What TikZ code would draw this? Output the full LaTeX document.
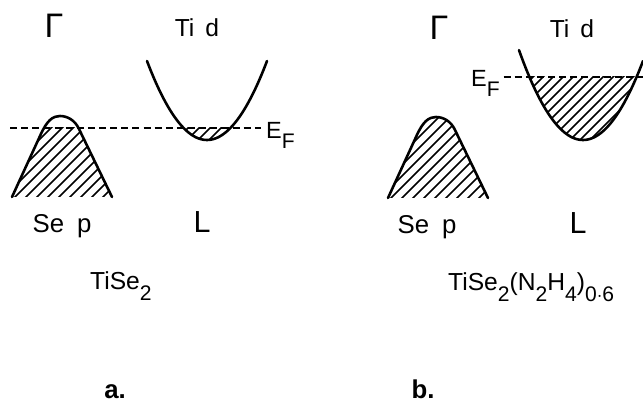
\documentclass[tikz,border=0pt]{standalone}
\usepackage{fontspec}
\setmainfont{Liberation Sans}
\usetikzlibrary{positioning}

% lettering-guide subscripts sit low and are nearly full size
\newcommand{\lowsub}[1]{\raisebox{-9pt}{\fontsize{18}{18}\selectfont #1}}
% band outlines, in picture pixels
\newcommand{\sepband}{(12,197) -- (40,136) .. controls (47,120) and (53,116) .. (60,116) .. controls (67,116) and (75,120) .. (79,129) -- (112,197)}

\begin{document}
\begin{tikzpicture}[x=0.03cm, y=-0.03cm,
    band/.style={line width=2.2pt, line join=round, line cap=round},
    hatch/.style={line width=1.5pt},
    fermi/.style={line width=1.1pt, dash pattern=on 6pt off 3.5pt},
    lab/.style={inner sep=0pt, font=\fontsize{21}{23}\selectfont},
    point/.style={inner sep=0pt, font=\fontsize{26}{28}\selectfont},
    panel/.style={inner sep=0pt, font=\fontsize{22}{24}\selectfont\bfseries}
]
\useasboundingbox (0,0) rectangle (643,404);

%%% a. TiSe2
% Se p band, filled below E_F
\begin{scope}
  \clip \sepband -- cycle;
  \clip (0,128) rectangle (130,200);
  \foreach \h in {-120,-109,...,130} \draw[hatch] (\h,200) -- ++(110,-110);
\end{scope}
\draw[band] \sepband;
% Ti d band, small electron pocket
\begin{scope}
  \clip plot[domain=-60:60, samples=61] ({207+\x},{140-79*(\x/60)^2}) -- cycle;
  \clip (140,128) rectangle (280,150);
  \foreach \h in {100,111,...,250} \draw[hatch] (\h,150) -- ++(40,-40);
\end{scope}
\draw[band] plot[domain=-60:60, samples=61] ({207+\x},{140-79*(\x/60)^2});

\node[point, font=\fontsize{29}{31}\selectfont, anchor=base] (gamA) at (54,38) {Γ};
\node[lab, anchor=base] (tidA) at (197,37) {Ti\hspace{0.45em}d};
\node[lab, font=\fontsize{22}{24}\selectfont, anchor=base] (sepA) at (62,233) {Se\hspace{0.5em}p};
\node[point, anchor=base] (pointLA) at (202,233) {L};
\node[lab, font=\fontsize{20}{22}\selectfont, anchor=north west] (EFa) at (266,122) {E\lowsub{F}};
\coordinate (efa) at (10,128);
\draw[fermi, shorten >=4pt] (efa) -- (efa -| EFa.west);
\node[lab, anchor=base west] (tise) at (90,290) {TiSe\lowsub{2}};
\node[panel, anchor=base] (pa) at (115,398) {a.};

%%% b. TiSe2(N2H4)0.6
\begin{scope}[shift={(376,1)}]
  \begin{scope}
    \clip \sepband -- cycle;
    \foreach \h in {-120,-109,...,130} \draw[hatch] (\h,200) -- ++(110,-110);
  \end{scope}
  \draw[band] \sepband;
\end{scope}
\begin{scope}
  \clip plot[domain=-64:60, samples=61] ({583+\x},{140-79*(\x/60)^2}) -- cycle;
  \clip (500,77) rectangle (650,150);
  \foreach \h in {420,430,...,660} \draw[hatch] (\h,150) -- ++(90,-90);
\end{scope}
\draw[band] plot[domain=-64:60, samples=61] ({583+\x},{140-79*(\x/60)^2});

\node[point, font=\fontsize{29}{31}\selectfont, anchor=base] (gamB) at (439,40) {Γ};
\node[lab, anchor=base] (tidB) at (572,38) {Ti\hspace{0.45em}d};
\node[lab, font=\fontsize{22}{24}\selectfont, anchor=base] (sepB) at (427,234) {Se\hspace{0.5em}p};
\node[point, anchor=base] (pointLB) at (578,234) {L};
\node[lab, font=\fontsize{20}{22}\selectfont, anchor=north west] (EFb) at (471,70) {E\lowsub{F}};
\coordinate (efb) at (643,77);
\draw[fermi, shorten <=3pt] (efb -| EFb.east) -- (efb);
\node[lab, anchor=base west] (tisehz) at (448,291) {TiSe\lowsub{2}(N\lowsub{2}H\lowsub{4})\lowsub{0$\cdot$6}};
\node[panel, anchor=base] (pb) at (423,398) {b.};
\end{tikzpicture}
\end{document}
